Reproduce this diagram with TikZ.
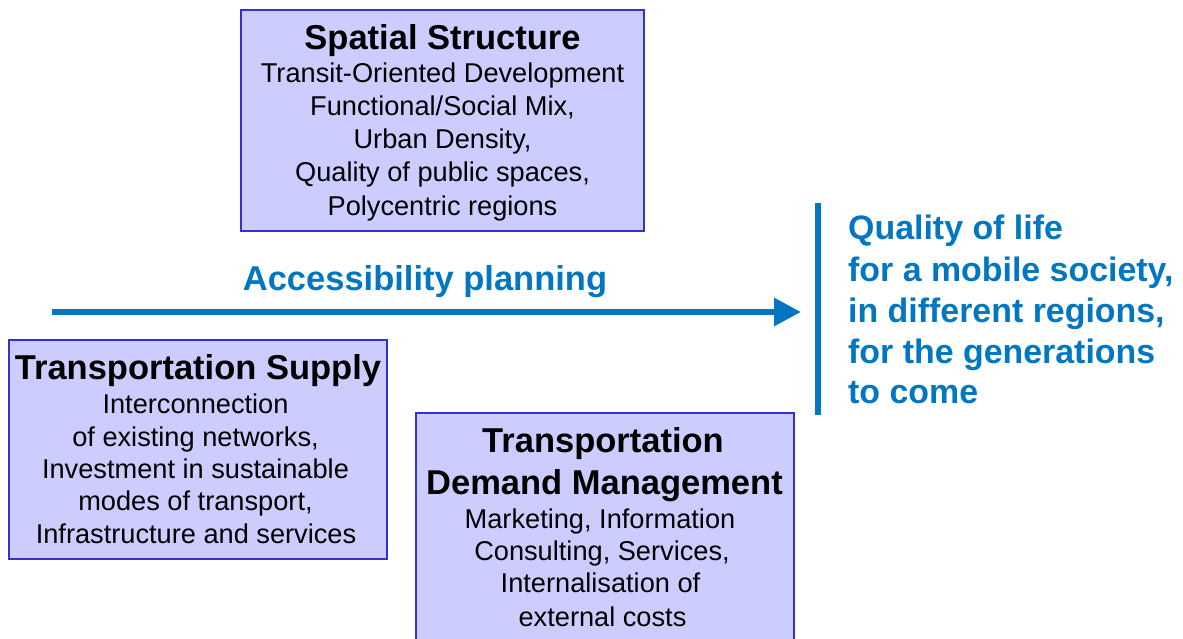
\documentclass[tikz,border=0pt]{standalone}
\usepackage{fontspec}
\setmainfont{Liberation Sans}
\usetikzlibrary{arrows.meta}
\definecolor{boxfill}{HTML}{CCCCFF}
\definecolor{boxline}{HTML}{3333CC}
\definecolor{accblue}{HTML}{0077C0}
\begin{document}
\begin{tikzpicture}[x=1pt,y=-1pt,
  box/.style={draw=boxline, fill=boxfill, line width=2pt, inner sep=0pt},
  ttl/.style={anchor=base, inner sep=0pt, font=\fontsize{34.5}{40}\selectfont\bfseries},
  bdy/.style={anchor=base, inner sep=0pt, font=\fontsize{27.2}{32}\selectfont},
  blu/.style={anchor=base west, inner sep=0pt, text=accblue, font=\fontsize{33.9}{40}\selectfont\bfseries},
  bluline/.style={draw=accblue, line width=6pt}]
\useasboundingbox (0,0) rectangle (1183,639);
\clip (0,0) rectangle (1183,639);
% boxes
\node[box, minimum width=403pt, minimum height=221pt] (ss) at (442.5,120.5) {};
\node[box, minimum width=378pt, minimum height=219pt] (ts) at (198,449.5) {};
\node[box, minimum width=378pt, minimum height=270pt] (tdm) at (605,548) {};
% spatial structure
\node[ttl] (ssT) at (442.5,50) {Spatial Structure};
\node[bdy] (ss1) at (442.5,83) {Transit-Oriented Development};
\node[bdy] (ss2) at (442.5,116) {Functional/Social Mix,};
\node[bdy] (ss3) at (442.5,149) {Urban Density,};
\node[bdy] (ss4) at (442.5,182) {Quality of public spaces,};
\node[bdy] (ss5) at (442.5,215) {Polycentric regions};
% transportation supply
\node[ttl] (tsT) at (198,379) {Transportation Supply};
\node[bdy] (ts1) at (195.5,413) {Interconnection};
\node[bdy] (ts2) at (195.5,446) {of existing networks,};
\node[bdy] (ts3) at (195.5,478) {Investment in sustainable};
\node[bdy] (ts4) at (195.5,510) {modes of transport,};
\node[bdy] (ts5) at (196,543) {Infrastructure and services};
% TDM
\node[ttl] (tdmT1) at (603,452) {Transportation};
\node[ttl] (tdmT2) at (604.5,494) {Demand Management};
\node[bdy] (tdm1) at (600,528) {Marketing, Information};
\node[bdy] (tdm2) at (602,560) {Consulting, Services,};
\node[bdy] (tdm3) at (600.5,592) {Internalisation of};
\node[bdy] (tdm4) at (602.5,626) {external costs};
% arrow
\coordinate (a0) at (52,312);
\coordinate (a1) at (801,312);
\draw[bluline, -{Triangle[length=27pt,width=27pt]}] (a0) -- (a1);
\node[blu, anchor=base, font=\fontsize{34.5}{40}\selectfont\bfseries] (acc) at (425,290) {Accessibility planning};
% bar
\coordinate (b0) at (818,203);
\coordinate (b1) at (818,415);
\draw[bluline] (b0) -- (b1);
\node[blu] (q1) at (848,240) {Quality of life};
\node[blu] (q2) at (848,281) {for a mobile society,};
\node[blu] (q3) at (848,322) {in different regions,};
\node[blu] (q4) at (848,363) {for the generations};
\node[blu] (q5) at (848,403) {to come};
\end{tikzpicture}
\end{document}
